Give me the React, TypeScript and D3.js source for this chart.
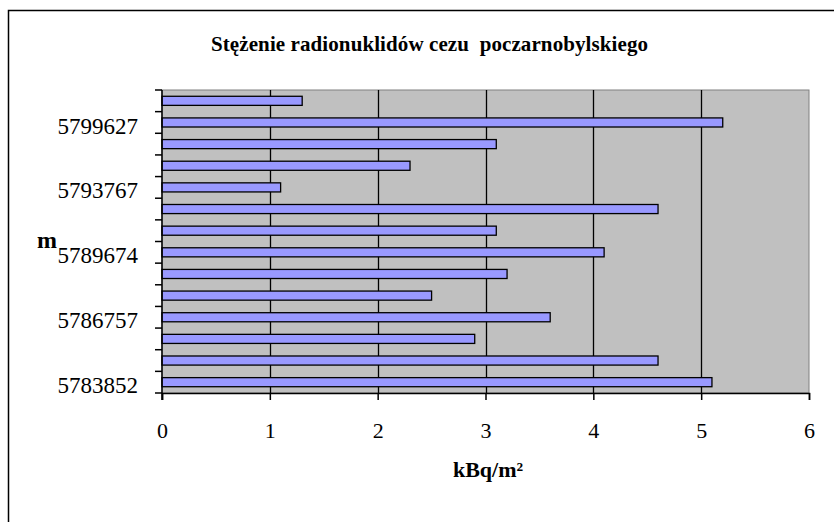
import { useEffect, useRef } from "react"
import * as d3 from "d3"

// categories from the bottom of the chart upwards (Excel draws the first one at the bottom)
const categories = [
  "5783852", "", "", "5786757", "", "", "5789674", "", "", "5793767", "", "", "5799627", "",
]
const values = [5.1, 4.6, 2.9, 3.6, 2.5, 3.2, 4.1, 3.1, 4.6, 1.1, 2.3, 3.1, 5.2, 1.3]
const xTicks = [0, 1, 2, 3, 4, 5, 6]

const title = "Stężenie radionuklidów cezu  poczarnobylskiego"
const xTitle = "kBq/m²"
const yTitle = "m"

const App = () => {
  const svgRef = useRef<SVGSVGElement>(null)

  useEffect(() => {
    const width = 834
    const height = 522
    const plot = { left: 162, top: 90, right: 809, bottom: 393 }
    const font = "'Liberation Serif', 'Times New Roman', serif"

    const svg = d3.select(svgRef.current)
    svg.selectAll("*").remove()

    svg.append("rect")
      .attr("width", width)
      .attr("height", height)
      .attr("fill", "#fff")

    // outer chart frame, cut off at the right and bottom
    svg.append("rect")
      .attr("x", 8.5)
      .attr("y", 10.5)
      .attr("width", 840)
      .attr("height", 540)
      .attr("fill", "none")
      .attr("stroke", "#000")
      .attr("stroke-width", 1.5)

    const x = d3.scaleLinear().domain([0, 6]).range([plot.left, plot.right])

    const y = d3.scaleBand<number>()
      .domain(d3.range(categories.length))
      .range([plot.bottom, plot.top])

    // plot area
    svg.append("rect")
      .attr("x", plot.left)
      .attr("y", plot.top)
      .attr("width", plot.right - plot.left)
      .attr("height", plot.bottom - plot.top)
      .attr("fill", "#c0c0c0")
      .attr("stroke", "#808080")
      .attr("stroke-width", 1)

    // vertical gridlines
    svg.append("g")
      .selectAll("line")
      .data(xTicks.filter(t => t > 0 && t < 6))
      .enter()
      .append("line")
      .attr("x1", d => Math.round(x(d)) + 0.5)
      .attr("x2", d => Math.round(x(d)) + 0.5)
      .attr("y1", plot.top)
      .attr("y2", plot.bottom)
      .attr("stroke", "#000")
      .attr("stroke-width", 1.3)

    // bars
    const barH = y.bandwidth() * 0.42
    svg.append("g")
      .selectAll("rect")
      .data(values)
      .enter()
      .append("rect")
      .attr("x", x(0))
      .attr("y", (d, i) => (y(i) as number) + (y.bandwidth() - barH) / 2)
      .attr("width", d => x(d) - x(0))
      .attr("height", barH)
      .attr("fill", "#9999ff")
      .attr("stroke", "#000")
      .attr("stroke-width", 1.3)

    // x axis
    const xAxis = svg.append("g")
      .attr("transform", `translate(0, ${plot.bottom})`)
      .call(d3.axisBottom(x).tickValues(xTicks).tickSize(7).tickPadding(22).tickFormat(d3.format("d")))
    xAxis.select(".domain").attr("stroke", "#000").attr("stroke-width", 1.5)
    xAxis.selectAll(".tick line").attr("stroke", "#000").attr("stroke-width", 1.5)
    xAxis.selectAll("text")
      .attr("font-family", font)
      .attr("font-size", 22)
      .attr("fill", "#000")

    // y axis: ticks on category boundaries, labels on every third category
    const yAxis = svg.append("g")
    yAxis.append("line")
      .attr("x1", plot.left)
      .attr("x2", plot.left)
      .attr("y1", plot.top)
      .attr("y2", plot.bottom + 7)
      .attr("stroke", "#000")
      .attr("stroke-width", 1.5)
    yAxis.selectAll(".ytick")
      .data(d3.range(categories.length + 1))
      .enter()
      .append("line")
      .attr("class", "ytick")
      .attr("x1", plot.left - 7)
      .attr("x2", plot.left)
      .attr("y1", i => i < categories.length ? (y(i) as number) + y.bandwidth() : plot.top)
      .attr("y2", i => i < categories.length ? (y(i) as number) + y.bandwidth() : plot.top)
      .attr("stroke", "#000")
      .attr("stroke-width", 1.5)
    yAxis.selectAll(".ylabel")
      .data(categories.map((c, i) => ({ c, i })).filter(d => d.c !== ""))
      .enter()
      .append("text")
      .attr("class", "ylabel")
      .attr("x", 138)
      .attr("y", d => (y(d.i) as number) + y.bandwidth() / 2 + 3)
      .attr("dy", "0.35em")
      .attr("text-anchor", "end")
      .attr("font-family", font)
      .attr("font-size", 23)
      .text(d => d.c)

    // titles
    svg.append("text")
      .attr("x", 211)
      .attr("y", 51)
      .attr("font-family", font)
      .attr("font-weight", "bold")
      .attr("font-size", 21)
      .attr("textLength", 437)
      .attr("lengthAdjust", "spacing")
      .style("white-space", "pre")
      .text(title)

    svg.append("text")
      .attr("x", 488)
      .attr("y", 477)
      .attr("text-anchor", "middle")
      .attr("font-family", font)
      .attr("font-weight", "bold")
      .attr("font-size", 22)
      .text(xTitle)

    svg.append("text")
      .attr("x", 37)
      .attr("y", 248)
      .attr("font-family", font)
      .attr("font-weight", "bold")
      .attr("font-size", 24)
      .text(yTitle)
  }, [])

  return (
    <svg
      ref={svgRef}
      width={834}
      height={522}
      style={{ position: "absolute", left: 0, top: 0, display: "block" }}
    />
  )
}

export default App
